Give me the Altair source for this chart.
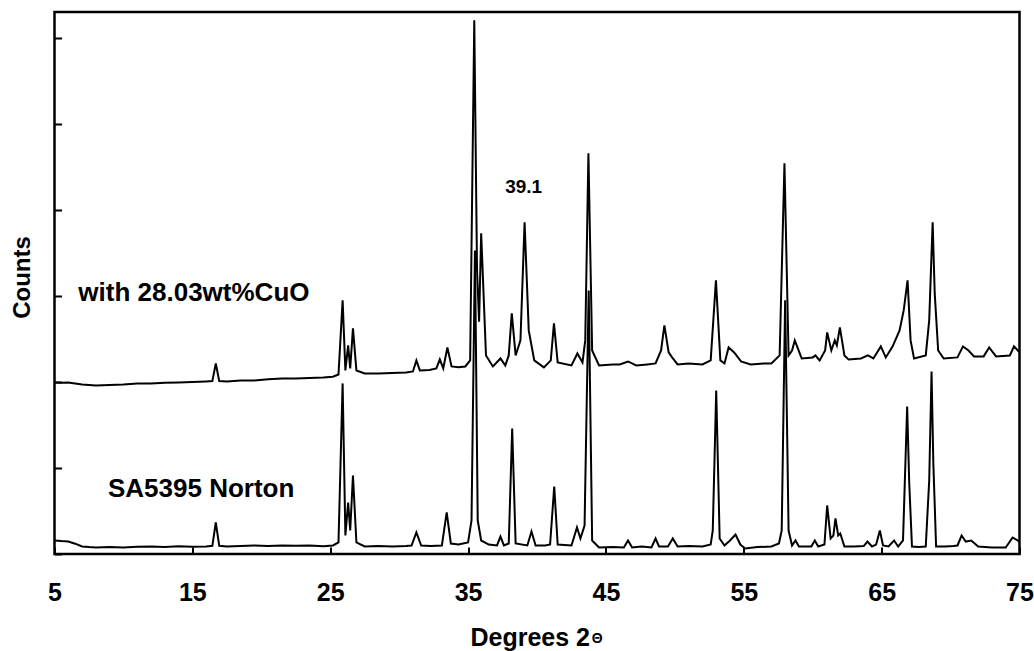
import altair as alt
import pandas as pd

# ---- data (2-theta in degrees, counts in arbitrary units) ----
norton_x = [5.0, 5.5, 6.0, 6.5, 7.0, 7.5, 8.0, 9.0, 10.0, 11.0, 12.0, 13.0, 14.0, 15.0, 16.0,
            16.45, 16.7, 16.95, 17.5, 18.5, 19.5, 20.5, 21.5, 22.5, 23.5, 24.5, 25.2, 25.6, 25.9,
            26.1, 26.3, 26.45, 26.65, 26.9, 27.5, 28.5, 29.5, 30.5, 30.9, 31.25, 31.6, 32.3, 33.1,
            33.45, 33.75, 34.3, 35.0, 35.25, 35.5, 35.7, 35.95, 36.5, 37.1, 37.35, 37.6, 37.95,
            38.2, 38.45, 39.3, 39.6, 39.9, 40.6, 40.95, 41.25, 41.5, 42.5, 42.9, 43.15, 43.45,
            43.75, 44.0, 44.5, 45.5, 46.3, 46.6, 46.9, 47.6, 48.3, 48.6, 48.85, 49.5, 49.85, 50.2,
            51.0, 52.0, 52.6, 52.75, 53.0, 53.25, 53.6, 54.0, 54.4, 54.75, 55.1, 56.0, 57.0, 57.55,
            57.75, 58.0, 58.25, 58.5, 58.75, 59.0, 59.9, 60.15, 60.4, 60.85, 61.05, 61.3, 61.5,
            61.65, 61.85, 62.0, 62.3, 63.0, 63.7, 63.97, 64.3, 64.6, 64.87, 65.1, 65.5, 65.9, 66.2,
            66.55, 66.85, 67.0, 67.2, 67.7, 68.2, 68.45, 68.62, 68.75, 68.95, 69.6, 70.2, 70.5,
            70.8, 71.1, 71.5, 72.0, 73.0, 74.0, 74.5, 75.0]
norton_y = [157, 150, 145, 120, 87, 80, 76, 82, 76, 85, 87, 80, 90, 85, 87,
            95, 366, 95, 87, 92, 99, 92, 99, 95, 99, 90, 99, 134, 1983,
            215, 599, 273, 913, 134, 87, 92, 87, 92, 99, 250, 99, 92, 99,
            483, 122, 110, 134, 390, 3529, 390, 157, 110, 99, 203, 99, 122,
            1459, 122, 99, 262, 99, 99, 110, 785, 110, 99, 308, 180, 331,
            3064, 157, 76, 80, 76, 157, 76, 87, 76, 180, 87, 87, 180, 87,
            92, 87, 110, 273, 1901, 180, 99, 157, 227, 110, 64, 80, 87, 122,
            273, 2948, 273, 99, 157, 87, 87, 157, 87, 110, 564, 180, 215,
            413, 215, 238, 87, 87, 92, 145, 87, 110, 273, 99, 87, 157, 87,
            157, 1715, 831, 87, 80, 87, 855, 2122, 1052, 87, 87, 92, 99,
            215, 145, 157, 87, 76, 76, 192, 145]

cuo_x = [5.0, 5.5, 6.0, 7.0, 8.0, 9.0, 10.0, 11.0, 12.0, 13.0, 14.0, 15.0, 16.0, 16.45, 16.7,
         16.95, 17.5, 18.5, 19.5, 20.5, 21.5, 22.5, 23.5, 24.5, 25.2, 25.6, 25.9, 26.1, 26.3,
         26.45, 26.65, 26.9, 27.5, 28.5, 29.5, 30.5, 31.0, 31.25, 31.5, 32.2, 32.7, 32.95, 33.2,
         33.5, 33.8, 34.3, 34.8, 35.15, 35.45, 35.65, 35.8, 35.95, 36.3, 36.8, 37.35, 37.7,
         37.95, 38.17, 38.45, 38.8, 39.1, 39.4, 39.8, 40.5, 41.0, 41.23, 41.5, 42.5, 42.93, 43.3,
         43.5, 43.73, 44.0, 44.5, 45.5, 46.0, 46.6, 47.2, 48.0, 48.6, 49.0, 49.24, 49.55, 49.8,
         50.2, 51.0, 52.0, 52.6, 52.98, 53.3, 53.6, 53.9, 54.3, 54.8, 55.5, 56.5, 57.0, 57.6,
         57.95, 58.25, 58.5, 58.7, 59.2, 60.0, 60.2, 60.5, 60.9, 61.05, 61.35, 61.6, 61.75,
         61.97, 62.3, 62.6, 63.5, 64.0, 64.4, 64.94, 65.3, 65.8, 66.3, 66.6, 66.88, 67.1, 67.35,
         68.2, 68.45, 68.7, 68.85, 69.1, 69.5, 70.5, 70.9, 71.3, 71.7, 72.4, 72.8, 73.3, 74.3,
         74.6, 75.0]
cuo_y = [1994, 1990, 1994, 1971, 1959, 1965, 1971, 1983, 1983, 1990, 1994, 2000, 2006, 2010, 2215,
         2010, 2006, 2017, 2017, 2030, 2041, 2041, 2045, 2052, 2060, 2087, 2948, 2134, 2424,
         2157, 2622, 2134, 2099, 2099, 2105, 2110, 2122, 2250, 2134, 2140, 2157, 2262, 2157,
         2401, 2180, 2170, 2180, 2250, 6204, 3300, 2700, 3727, 2308, 2180, 2273, 2190,
         2308, 2797, 2308, 2483, 3855, 2599, 2250, 2169, 2250, 2680, 2227, 2192, 2331, 2227,
         2483, 4657, 2366, 2192, 2204, 2204, 2238, 2192, 2204, 2215, 2366, 2657, 2343, 2285,
         2204, 2215, 2204, 2250, 3180, 2250, 2215, 2401, 2343, 2238, 2204, 2215, 2215, 2308,
         4541, 2308, 2366, 2483, 2273, 2285, 2308, 2250, 2366, 2576, 2366, 2483, 2424,
         2634, 2308, 2262, 2273, 2308, 2273, 2413, 2285, 2413, 2599, 2831, 3180, 2483, 2273,
         2308, 2715, 3855, 3029, 2366, 2273, 2285, 2413, 2366, 2297, 2297, 2401, 2297, 2308,
         2413, 2343]

x_ticks = [5, 15, 25, 35, 45, 55, 65, 75]
y_ticks = [0, 1000, 2000, 3000, 4000, 5000, 6000]

ann_text = ["with 28.03wt%CuO", "SA5395 Norton", "39.1"]
ann_x = [6.73, 8.88, 37.69]
ann_y = [2940, 660, 4195]
ann_size = [26, 26, 19]

theta_text = ["\u0398"]
theta_x = [44.37]
theta_y = [-1035]

FONT = "Liberation Sans"

df = pd.concat([
    pd.DataFrame({"two_theta": norton_x, "counts": norton_y, "sample": "SA5395 Norton"}),
    pd.DataFrame({"two_theta": cuo_x, "counts": cuo_y, "sample": "with 28.03wt%CuO"}),
], ignore_index=True)
ann = pd.DataFrame({"x": ann_x, "y": ann_y, "text": ann_text, "fs": ann_size})
th = pd.DataFrame({"x": theta_x, "y": theta_y, "text": theta_text})

xscale = alt.Scale(domain=[5, 75], nice=False, zero=False)
yscale = alt.Scale(domain=[0, 6300], nice=False, zero=False)

xaxis = alt.Axis(values=x_ticks, format="d", labelFont=FONT, labelFontWeight="bold",
                 labelFontSize=25, labelColor="black", labelPadding=26, labelFlush=False,
                 labelOverlap=False, tickSize=7, tickWidth=2, tickColor="black", offset=-7,
                 domain=False, grid=False, title="Degrees 2", titleFont=FONT,
                 titleFontSize=25, titleFontWeight="bold", titleColor="black",
                 titleAlign="left", titleBaseline="alphabetic", titleX=415.5, titleY=98)
yaxis = alt.Axis(values=y_ticks, labels=False, tickSize=7, tickWidth=2, tickColor="black",
                 offset=-7, domain=False, grid=False, title="Counts", titleFont=FONT,
                 titleFontSize=24, titleFontWeight="bold", titleColor="black",
                 titleAngle=270, titleAlign="center", titleBaseline="alphabetic",
                 titleX=-32, titleY=265)

lines = alt.Chart(df).mark_line(strokeWidth=2.0, color="black", clip=True).encode(
    x=alt.X("two_theta:Q", scale=xscale, axis=xaxis),
    y=alt.Y("counts:Q", scale=yscale, axis=yaxis),
    detail="sample:N",
)

labels = alt.Chart(ann).mark_text(font=FONT, fontWeight="bold", align="left",
                                  baseline="alphabetic", color="black").encode(
    x=alt.X("x:Q", scale=xscale),
    y=alt.Y("y:Q", scale=yscale),
    text="text:N",
    size=alt.Size("fs:Q", scale=None, legend=None),
)

theta = alt.Chart(th).mark_text(font=FONT, fontWeight="bold", align="center",
                                baseline="alphabetic", fontSize=14, color="black").encode(
    x=alt.X("x:Q", scale=xscale),
    y=alt.Y("y:Q", scale=yscale),
    text="text:N",
)

chart = alt.layer(lines, labels, theta).properties(
    width=965, height=542,
    padding={"left": 54.5, "top": 12, "right": 14.5, "bottom": 97},
    autosize=alt.AutoSizeParams(type="none"),
    background="white",
).configure_view(stroke="black", strokeWidth=2.5)

chart.save("out.html", embed_options={"renderer": "svg", "actions": False})
